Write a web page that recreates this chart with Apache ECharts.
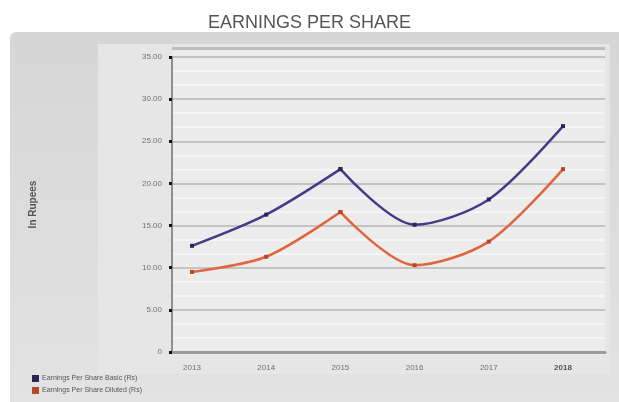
<!DOCTYPE html>
<html>
<head>
<meta charset="utf-8">
<script src="https://cdn.jsdelivr.net/npm/echarts@6/dist/echarts.min.js"></script>
<style>
  html, body { margin: 0; padding: 0; background: #ffffff; }
  #chart { width: 619px; height: 402px; }
</style>
</head>
<body>
<div id="chart"></div>
<script>
// Financial years on the category axis
const years = ['2013', '2014', '2015', '2016', '2017', '2018'];
// Earnings per share, basic and diluted
const epsBasic = [12.6, 16.3, 21.7, 15.1, 18.1, 26.8];
const epsDiluted = [9.5, 11.3, 16.6, 10.3, 13.1, 21.7];
// Value axis range and step
const yMin = 0;
const yMax = 35;
const yStep = 5;
const seriesNames = ['Earnings Per Share Basic (Rs)', 'Earnings Per Share Diluted (Rs)'];
// Index where each curve restarts its spline, so the peak stays a sharp corner
const splineBreaks = [2];

const FONT = '"Liberation Sans", Arial, sans-serif';

// Turn a value list into [categoryIndex, value] pairs, repeating the point at
// each break with an empty item between so the smoothing restarts there.
function splineData(values) {
  const out = [];
  values.forEach((v, i) => {
    out.push([i, v]);
    if (splineBreaks.includes(i)) {
      out.push([i, null]);
      out.push([i, v]);
    }
  });
  return out;
}

const chart = echarts.init(document.getElementById('chart'), null, { renderer: 'canvas' });

chart.setOption({
  animation: false,
  backgroundColor: '#ffffff',
  title: {
    text: 'EARNINGS PER SHARE',
    left: 'center',
    top: 9,
    textStyle: { fontFamily: FONT, fontSize: 18, fontWeight: 'normal', color: '#555555' }
  },
  graphic: [
    // outer grey panel
    { type: 'rect', z: -10, shape: { x: 10, y: 32, width: 620, height: 380, r: 6 },
      style: { fill: new echarts.graphic.LinearGradient(0, 0, 0, 1, [
        { offset: 0, color: '#d6d6d6' }, { offset: 1, color: '#e3e3e3' }]) } },
    // inner lighter box holding the axis labels and plot
    { type: 'rect', z: -9, shape: { x: 98, y: 44, width: 512, height: 330 },
      style: { fill: '#e6e6e6' } },
    // plot area
    { type: 'rect', z: -8, shape: { x: 172, y: 47, width: 433, height: 308 },
      style: { fill: '#ececec' } },
    { type: 'rect', z: -7, shape: { x: 172, y: 47, width: 433, height: 3 },
      style: { fill: '#bcbcbc' } }
  ],
  legend: {
    orient: 'vertical',
    left: 32,
    top: 375,
    padding: 0,
    itemWidth: 7,
    itemHeight: 7,
    itemGap: 5,
    icon: 'rect',
    data: seriesNames,
    textStyle: { fontFamily: FONT, fontSize: 7, color: '#555', padding: [0, 0, 0, -2] }
  },
  grid: [
    { left: 172, right: 14, top: 57, bottom: 50 },
    { left: 192, right: 56, top: 57, bottom: 50 }
  ],
  xAxis: [
    {
      gridIndex: 0, type: 'value', min: 0, max: 1,
      axisLine: { show: true, lineStyle: { color: '#9a9a9a', width: 3 } },
      axisTick: { show: false }, axisLabel: { show: false }, splitLine: { show: false }
    },
    {
      gridIndex: 1, type: 'category', boundaryGap: false, data: years,
      axisLine: { show: false }, axisTick: { show: false }, splitLine: { show: false },
      axisLabel: {
        margin: 12, fontFamily: FONT, fontSize: 8, color: '#707070',
        formatter: (v, i) => i === years.length - 1 ? '{b|' + v + '}' : v,
        rich: { b: { fontFamily: FONT, fontSize: 8, fontWeight: 'bold', color: '#555' } }
      }
    }
  ],
  yAxis: [
    {
      gridIndex: 0, type: 'value', min: yMin, max: yMax, interval: yStep,
      name: 'In Rupees', nameLocation: 'middle', nameGap: 134, nameRotate: 90,
      nameTextStyle: { fontFamily: FONT, fontSize: 10, fontWeight: 'bold', color: '#555' },
      axisLine: { show: true, lineStyle: { color: '#8e8e8e', width: 2 } },
      axisTick: { show: true, length: 3, lineStyle: { color: '#111', width: 3 } },
      axisLabel: {
        margin: 10, fontFamily: FONT, fontSize: 8, color: '#707070',
        formatter: v => v === 0 ? '0' : v.toFixed(2)
      },
      splitLine: { show: true, lineStyle: { color: '#c3c3c3', width: 2 } },
      minorTick: { show: false, splitNumber: 3 },
      minorSplitLine: { show: true, lineStyle: { color: '#f7f7f7', width: 1.5 } }
    },
    { gridIndex: 1, type: 'value', min: yMin, max: yMax, interval: yStep, show: false }
  ],
  series: [
    {
      name: seriesNames[0], type: 'line', xAxisIndex: 1, yAxisIndex: 1,
      data: splineData(epsBasic), smooth: 0.3, connectNulls: false,
      color: '#4a3a86',
      symbol: 'rect', symbolSize: 4,
      lineStyle: { width: 2.5, color: '#4a3a86' },
      itemStyle: { color: '#2e2458' }
    },
    {
      name: seriesNames[1], type: 'line', xAxisIndex: 1, yAxisIndex: 1,
      data: splineData(epsDiluted), smooth: 0.3, connectNulls: false,
      color: '#e0653e',
      symbol: 'rect', symbolSize: 4,
      lineStyle: { width: 2.5, color: '#e0653e' },
      itemStyle: { color: '#b8472a' }
    }
  ]
});
</script>
</body>
</html>
